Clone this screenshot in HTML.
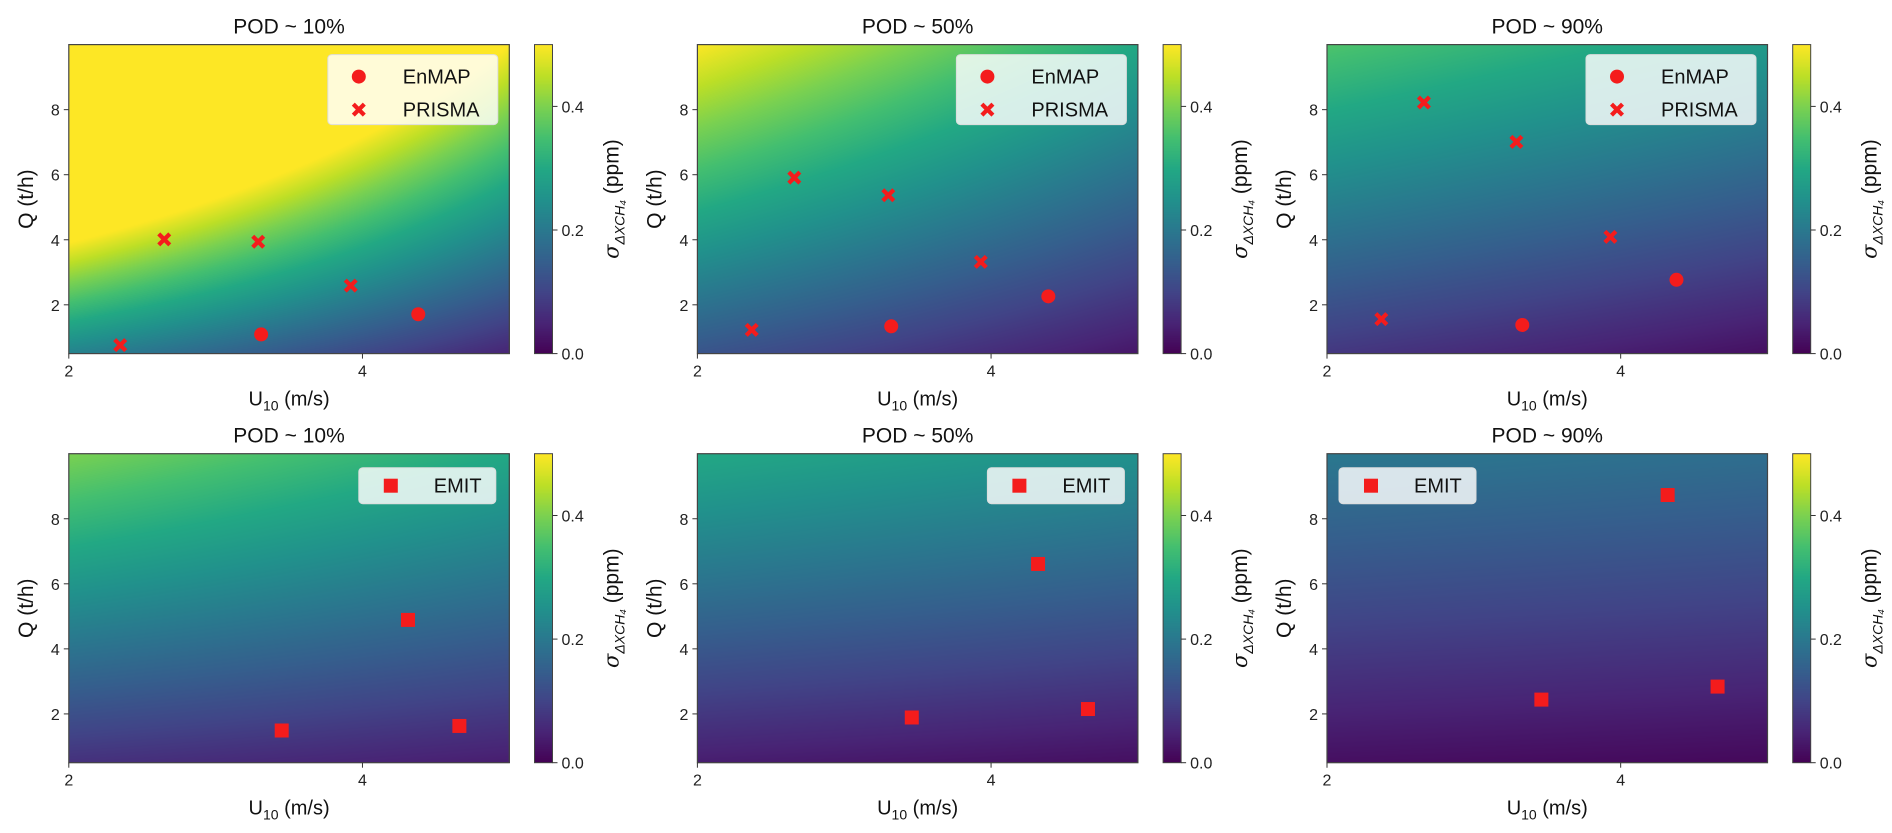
<!DOCTYPE html>
<html><head><meta charset="utf-8"><style>
body{margin:0;background:#fff;width:1892px;height:833px;overflow:hidden;position:relative;font-family:"Liberation Sans","DejaVu Sans",sans-serif}
canvas{position:absolute}
svg{position:absolute;left:0;top:0}
</style></head><body>
<div id="root"></div>
<script>
// ---- data ----
const panelTitles = ["POD ~ 10%","POD ~ 50%","POD ~ 90%","POD ~ 10%","POD ~ 50%","POD ~ 90%"];
// sigma at corners of each field: top-left, top-right, bottom-left, bottom-right
const fieldTL = [1.0,0.5,0.36,0.40,0.30,0.20];
const fieldTR = [0.5,0.3,0.27,0.30,0.25,0.18];
const fieldBL = [0.22,0.13,0.08,0.07,0.04,0.02];
const fieldBR = [0.05,0.03,0.02,0.04,0.02,0.01];
const enmapU = [[3.31,4.38],[3.32,4.39],[3.33,4.38]];
const enmapQ = [[1.09,1.71],[1.34,2.26],[1.38,2.77]];
const prismaU = [[2.35,2.65,3.29,3.92],[2.37,2.66,3.30,3.93],[2.37,2.66,3.29,3.93]];
const prismaQ = [[0.76,4.01,3.94,2.59],[1.23,5.91,5.37,3.32],[1.56,8.22,7.01,4.09]];
const emitU = [[3.45,4.31,4.66],[3.46,4.32,4.66],[3.46,4.32,4.66]];
const emitQ = [[1.49,4.89,1.63],[1.89,6.61,2.15],[2.44,8.73,2.84]];
const xTicks = [2,4];
const yTicks = [2,4,6,8];
const cbTicks = [0.0,0.2,0.4];

const VIR=["#440154","#482475","#414487","#355f8d","#2a788e","#21918c","#22a884","#44bf70","#7ad151","#bddf26","#fde725"].map(h=>[1,3,5].map(i=>parseInt(h.substr(i,2),16)));
function vir(t){t=Math.max(0,Math.min(1,t));const f=t*10,i=Math.min(9,Math.floor(f)),r=f-i;return VIR[i].map((c,k)=>Math.round(c+(VIR[i+1][k]-c)*r));}
const X0=2,X1=5,Y0=0.5,Y1=10,VMAX=0.5;
const lefts=[68.8,697.4,1327], tops=[44.6,453.7], W=440.5, H=309;
const NS="http://www.w3.org/2000/svg";
const root=document.getElementById('root');
const svg=document.createElementNS(NS,'svg');
svg.setAttribute('width','1892');svg.setAttribute('height','833');


function el(tag,attrs,parent){const e=document.createElementNS(NS,tag);for(const k in attrs)e.setAttribute(k,attrs[k]);(parent||svg).appendChild(e);return e;}
function txt(s,attrs,parent){const e=el('text',attrs,parent);e.textContent=s;return e;}
const RED="#f41c1c";
function marker(g,type,cx,cy){
  if(type==='o') return el('circle',{cx:cx,cy:cy,r:7,fill:RED},g);
  if(type==='s') return el('rect',{x:cx-7,y:cy-7,width:14,height:14,fill:RED},g);
  const d=`M${cx-7},${cy-4} L${cx-4},${cy-7} L${cx},${cy-3} L${cx+4},${cy-7} L${cx+7},${cy-4} L${cx+3},${cy} L${cx+7},${cy+4} L${cx+4},${cy+7} L${cx},${cy+3} L${cx-4},${cy+7} L${cx-7},${cy+4} L${cx-3},${cy} Z`;
  return el('path',{d:d,fill:RED},g);
}
for(let p=0;p<6;p++){
  const row=Math.floor(p/3), col=p%3, L=lefts[col], T=tops[row];
  const sx=u=>L+(u-X0)/(X1-X0)*W, sy=q=>T+H-(q-Y0)/(Y1-Y0)*H;
  const cv=document.createElement('canvas');
  cv.width=Math.round(W);cv.height=H;cv.style.left=L+'px';cv.style.top=T+'px';
  
  
  root.appendChild(cv);
  const ctx=cv.getContext('2d'),img=ctx.createImageData(cv.width,cv.height);
  for(let j=0;j<cv.height;j++){const fy=(Y1-(j+0.5)/cv.height*(Y1-Y0)-Y0)/(Y1-Y0);
    const lv=fieldBL[p]+(fieldTL[p]-fieldBL[p])*fy, rv=fieldBR[p]+(fieldTR[p]-fieldBR[p])*fy;
    for(let i=0;i<cv.width;i++){const fx=(i+0.5)/cv.width;
      const v=lv+(rv-lv)*fx;const c=vir(v/VMAX);const o=(j*cv.width+i)*4;
      img.data[o]=c[0];img.data[o+1]=c[1];img.data[o+2]=c[2];img.data[o+3]=255;}}
  ctx.putImageData(img,0,0);
  const CBX=L+465.7;
  const cb=document.createElement('canvas');cb.width=18;cb.height=H;cb.style.left=CBX+'px';cb.style.top=T+'px';
  
  
  root.appendChild(cb);
  const c2=cb.getContext('2d');for(let j=0;j<H;j++){const c=vir(1-j/H);c2.fillStyle=`rgb(${c})`;c2.fillRect(0,j,18,1);}
  const g=el('g',{});
  
  
  el('rect',{x:L,y:T,width:W,height:H,fill:'none',stroke:'#444','stroke-width':1.2},g);
  el('rect',{x:CBX,y:T,width:18,height:H,fill:'none',stroke:'#444','stroke-width':1},g);
  const t=txt(panelTitles[p],{x:L+W/2,y:T-11,'font-size':21,'text-anchor':'middle',fill:'#111'},g);
  
  
  xTicks.forEach(v=>{el('line',{x1:sx(v),x2:sx(v),y1:T+H,y2:T+H+5,stroke:'#333'},g);txt(String(v),{x:sx(v),y:T+H+23,'font-size':16,'text-anchor':'middle',fill:'#222'},g);});
  yTicks.forEach(v=>{el('line',{x1:L-5,x2:L,y1:sy(v),y2:sy(v),stroke:'#333'},g);txt(String(v),{x:L-9,y:sy(v)+6,'font-size':16,'text-anchor':'end',fill:'#222'},g);});
  cbTicks.forEach(v=>{const y=T+H-v/VMAX*H;el('line',{x1:CBX+18,x2:CBX+23,y1:y,y2:y,stroke:'#333'},g);txt(v.toFixed(1),{x:CBX+27,y:y+6,'font-size':16,fill:'#222'},g);});
  const xl=txt('',{x:L+W/2,y:T+H+52,'font-size':20,'text-anchor':'middle',fill:'#111'},g);
  xl.innerHTML='U<tspan font-size="14" dy="5">10</tspan><tspan dy="-5"> (m/s)</tspan>';
  
  
  const yl=txt('Q (t/h)',{x:0,y:0,'font-size':21,'text-anchor':'middle',fill:'#111',transform:`translate(${L-36},${T+H/2}) rotate(-90)`},g);
  
  
  const cl=txt('',{x:0,y:0,'font-size':21,'text-anchor':'middle',fill:'#111',transform:`translate(${CBX+84},${T+H/2}) rotate(-90)`},g);
  cl.innerHTML='<tspan font-family="DejaVu Serif" font-style="italic">σ</tspan><tspan font-size="14" font-style="italic" dy="6">ΔXCH₄</tspan><tspan dy="-6">  (ppm)</tspan>';
  
  
  if(row===0){
    enmapU[col].forEach((u,i)=>marker(g,'o',sx(u),sy(enmapQ[col][i])));
    prismaU[col].forEach((u,i)=>marker(g,'x',sx(u),sy(prismaQ[col][i])));
    const lg=el('g',{},g);
    
    
    el('rect',{x:L+259,y:T+10,width:170,height:70,rx:4,fill:'#fff','fill-opacity':0.82,stroke:'#ddd'},lg);
    marker(lg,'o',L+290,T+32);marker(lg,'x',L+290,T+65);
    txt('EnMAP',{x:L+334,y:T+39,'font-size':20,fill:'#111'},lg);
    txt('PRISMA',{x:L+334,y:T+72,'font-size':20,fill:'#111'},lg);
  } else {
    emitU[col].forEach((u,i)=>marker(g,'s',sx(u),sy(emitQ[col][i])));
    const lx=col===2?L+12:L+290;
    const lg=el('g',{},g);
    
    
    el('rect',{x:lx,y:T+14,width:137,height:36,rx:4,fill:'#fff','fill-opacity':0.82,stroke:'#ddd'},lg);
    marker(lg,'s',lx+32,T+32);
    txt('EMIT',{x:lx+75,y:T+39,'font-size':20,fill:'#111'},lg);
  }
}
root.appendChild(svg);
</script>
</body></html>
